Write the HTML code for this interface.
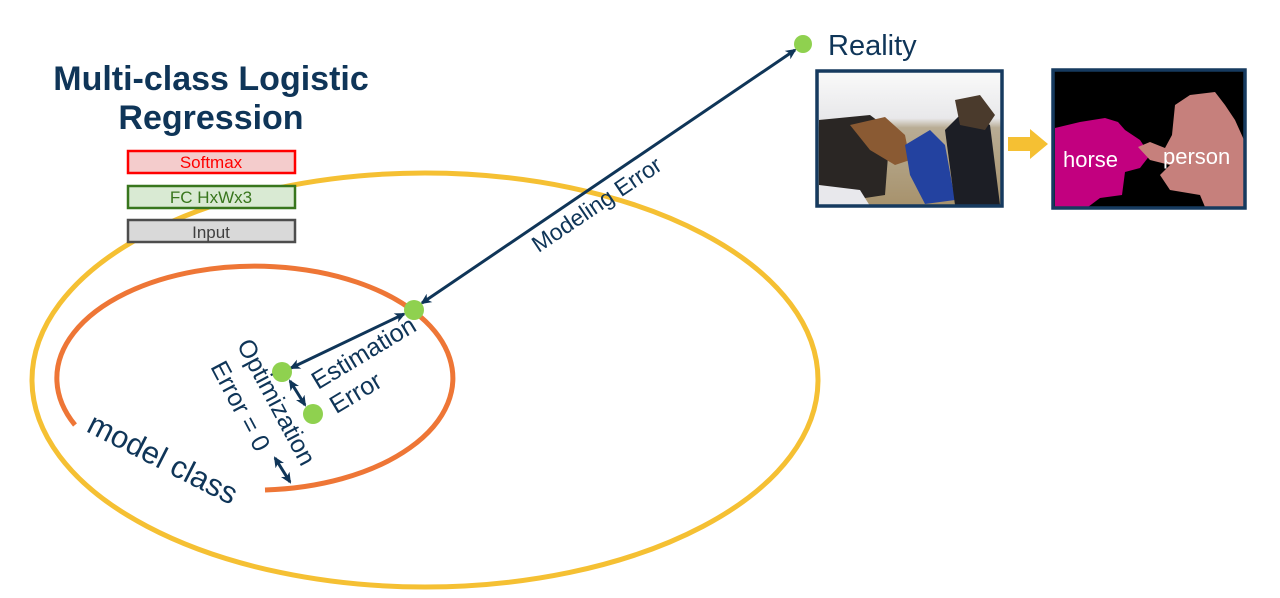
<!DOCTYPE html>
<html><head><meta charset="utf-8"><style>
html,body{margin:0;padding:0;background:#fff;}
svg{display:block;}
text{font-family:"Liberation Sans",Arial,sans-serif;}
</style></head><body>
<svg width="1280" height="598" viewBox="0 0 1280 598" xmlns="http://www.w3.org/2000/svg">
<defs>
<marker id="ah" markerWidth="12" markerHeight="12" refX="9" refY="6" orient="auto-start-reverse" markerUnits="userSpaceOnUse">
<path d="M0,1 L11,6 L0,11 L3,6 Z" fill="#0f3558"/>
</marker>
<linearGradient id="sky" x1="0" y1="0" x2="0" y2="1"><stop offset="0" stop-color="#fafafa"/><stop offset="0.35" stop-color="#e8e8ea"/><stop offset="0.42" stop-color="#b9ad95"/><stop offset="1" stop-color="#a7926c"/></linearGradient>
</defs>
<ellipse cx="425" cy="380" rx="393" ry="207" fill="none" stroke="#f5c033" stroke-width="5"/>
<path d="M265,490 A198 112 0 1 0 75,425" fill="none" stroke="#ee7636" stroke-width="5"/>
<text x="211" y="90" font-size="34" font-weight="bold" fill="#0f3558" text-anchor="middle">Multi-class Logistic</text>
<text x="211" y="129" font-size="34" font-weight="bold" fill="#0f3558" text-anchor="middle">Regression</text>
<rect x="128" y="151" width="167" height="22" fill="#f4cccc" stroke="#ff0000" stroke-width="2.5"/>
<text x="211" y="168" font-size="17" fill="#ff0000" text-anchor="middle">Softmax</text>
<rect x="128" y="186" width="167" height="22" fill="#d9ead3" stroke="#38761d" stroke-width="2.5"/>
<text x="211" y="203" font-size="17" fill="#38761d" text-anchor="middle">FC HxWx3</text>
<rect x="128" y="220" width="167" height="22" fill="#d9d9d9" stroke="#4d4d4d" stroke-width="2.5"/>
<text x="211" y="238" font-size="17" fill="#404040" text-anchor="middle">Input</text>
<line x1="795" y1="50" x2="422" y2="303" stroke="#0f3558" stroke-width="3" marker-start="url(#ah)" marker-end="url(#ah)"/>
<line x1="404" y1="314" x2="291" y2="368" stroke="#0f3558" stroke-width="3" marker-start="url(#ah)" marker-end="url(#ah)"/>
<line x1="290" y1="381" x2="305" y2="405" stroke="#0f3558" stroke-width="3" marker-start="url(#ah)" marker-end="url(#ah)"/>
<line x1="275" y1="458" x2="290" y2="482" stroke="#0f3558" stroke-width="3" marker-start="url(#ah)" marker-end="url(#ah)"/>
<circle cx="803" cy="44" r="9" fill="#8fd14f"/>
<circle cx="414" cy="310" r="10" fill="#8fd14f"/>
<circle cx="282" cy="372" r="10" fill="#8fd14f"/>
<circle cx="313" cy="414" r="10" fill="#8fd14f"/>
<text x="828" y="55" font-size="29" fill="#0f3558">Reality</text>
<text transform="translate(601,211) rotate(-34)" font-size="23" fill="#0f3558" text-anchor="middle">Modeling Error</text>
<text transform="translate(368,360) rotate(-31)" font-size="25" fill="#0f3558" text-anchor="middle">Estimation</text>
<text transform="translate(360,400) rotate(-31)" font-size="25" fill="#0f3558" text-anchor="middle">Error</text>
<text transform="translate(269,406) rotate(62)" font-size="25" fill="#0f3558" text-anchor="middle">Optimization</text>
<text transform="translate(233,410) rotate(62)" font-size="25" fill="#0f3558" text-anchor="middle">Error = 0</text>
<text transform="translate(158,468) rotate(27)" font-size="31" fill="#0f3558" text-anchor="middle">model class</text>
<rect x="817" y="71" width="185" height="135" fill="url(#sky)"/>
<path d="M819,120 L870,115 L890,130 L885,195 L819,205 Z" fill="#2a2624"/>
<path d="M850,125 L885,117 L905,135 L910,160 L895,165 L870,150 Z" fill="#8a5a33"/>
<path d="M905,145 L930,130 L945,145 L955,200 L925,204 L910,175 Z" fill="#2342a0"/>
<path d="M945,130 L965,110 L990,125 L1000,205 L955,205 Z" fill="#1c1e25"/>
<path d="M955,100 L980,95 L995,115 L985,130 L960,125 Z" fill="#4a3a2c"/>
<path d="M819,185 L860,190 L870,206 L819,206 Z" fill="#e8e8ec"/>
<rect x="817" y="71" width="185" height="135" fill="none" stroke="#163a5f" stroke-width="3.5"/>
<path d="M1008,137 L1030,137 L1030,129 L1048,144 L1030,159 L1030,151 L1008,151 Z" fill="#f5c033"/>
<rect x="1053" y="70" width="192" height="138" fill="#000"/>
<path d="M1055,128 L1080,122 L1105,118 L1118,122 L1125,130 L1140,140 L1150,155 L1140,168 L1125,172 L1122,195 L1100,198 L1088,207 L1055,207 Z" fill="#c2007f"/>
<path d="M1175,105 L1190,95 L1215,92 L1225,105 L1235,120 L1244,140 L1244,207 L1205,207 L1200,195 L1170,190 L1160,175 L1170,165 L1150,160 L1138,147 L1150,142 L1165,148 L1172,135 Z" fill="#c6807c"/>
<text x="1063" y="167" font-size="22" fill="#fff">horse</text>
<text x="1163" y="164" font-size="22" fill="#fff">person</text>
<rect x="1053" y="70" width="192" height="138" fill="none" stroke="#163a5f" stroke-width="3.5"/>
</svg>
</body></html>
